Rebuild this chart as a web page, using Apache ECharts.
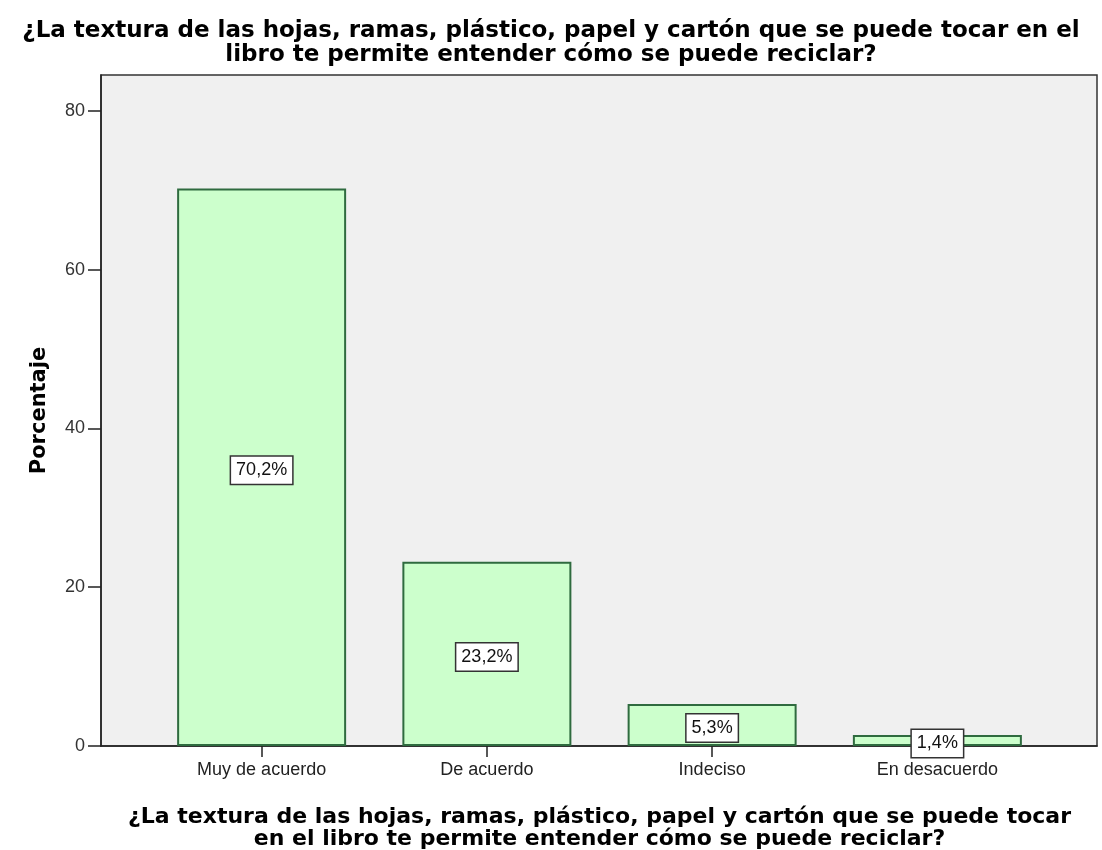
<!DOCTYPE html>
<html>
<head>
<meta charset="utf-8">
<title>Textura del libro</title>
<script src="https://cdn.jsdelivr.net/npm/echarts@6/dist/echarts.min.js"></script>
<style>
	html, body { margin: 0; padding: 0; background: #fff; }
	#chart { width: 1102px; height: 850px; }
</style>
</head>
<body>
<div id="chart"></div>
<script>
var categories = ['Muy de acuerdo', 'De acuerdo', 'Indeciso', 'En desacuerdo'];
var porcentajes = [70.2, 23.2, 5.3, 1.4];
var etiquetas = ['70,2%', '23,2%', '5,3%', '1,4%'];
var yTicks = [0, 20, 40, 60, 80];

var titulo = '¿La textura de las hojas, ramas, plástico, papel y cartón que se puede tocar en el\nlibro te permite entender cómo se puede reciclar?';
var tituloX = '¿La textura de las hojas, ramas, plástico, papel y cartón que se puede tocar\nen el libro te permite entender cómo se puede reciclar?';

var myChart = echarts.init(document.getElementById('chart'));

var yMax = 84.5;
var fuenteBold = 'DejaVu Sans, sans-serif';
var fuente = 'Liberation Sans, Arial, sans-serif';

var option = {
	backgroundColor: '#ffffff',
	animation: false,
	title: {
		text: titulo,
		left: 'center',
		top: 14,
		textStyle: {
			fontFamily: fuenteBold,
			fontWeight: 'bold',
			fontSize: 23,
			lineHeight: 24,
			color: '#000'
		}
	},
	grid: [{
		// caja de fondo
		left: 101, right: 5, top: 75, bottom: 104,
		outerBoundsMode: 'none',
		containLabel: false,
		show: true,
		backgroundColor: '#f0f0f0',
		borderColor: '#333',
		borderWidth: 1.5
	}, {
		// rejilla de las barras
		left: 149, right: 52, top: 75, bottom: 104,
		outerBoundsMode: 'none',
		containLabel: false
	}],
	xAxis: [{
		gridIndex: 0,
		type: 'category',
		data: [''],
		axisLine: { show: true, lineStyle: { color: '#222', width: 1.5 } },
		axisTick: { show: false },
		axisLabel: { show: false }
	}, {
		gridIndex: 1,
		type: 'category',
		data: categories,
		axisLine: { show: false },
		axisTick: { show: true, alignWithLabel: true, length: 11, lineStyle: { color: '#222', width: 1.5 } },
		axisLabel: {
			margin: 15,
			fontFamily: fuente,
			fontSize: 18,
			color: '#222'
		},
		name: tituloX,
		nameLocation: 'middle',
		nameGap: 60,
		nameTextStyle: {
			fontFamily: fuenteBold,
			fontWeight: 'bold',
			fontSize: 22,
			lineHeight: 22,
			color: '#000'
		}
	}],
	yAxis: [{
		gridIndex: 0,
		type: 'value',
		min: 0,
		max: yMax,
		interval: 20,
		splitLine: { show: false },
		axisLine: { show: true, lineStyle: { color: '#222', width: 1.5 } },
		axisTick: { show: true, length: 13, lineStyle: { color: '#222', width: 1.5 } },
		axisLabel: {
			showMaxLabel: false,
			margin: 16,
			fontFamily: fuente,
			fontSize: 18,
			color: '#333',
			formatter: function(v) {
				return yTicks.indexOf(v) >= 0 ? String(v) : '';
			}
		},
		name: 'Porcentaje',
		nameLocation: 'middle',
		nameGap: 51,
		nameTextStyle: {
			fontFamily: fuenteBold,
			fontWeight: 'bold',
			fontSize: 21,
			color: '#000'
		}
	}, {
		gridIndex: 1,
		type: 'value',
		min: 0,
		max: yMax,
		show: false,
		splitLine: { show: false }
	}],
	series: [{
		type: 'bar',
		xAxisIndex: 1,
		yAxisIndex: 1,
		barWidth: 169,
		data: porcentajes,
		itemStyle: {
			color: '#ccffcc',
			borderColor: '#2f6b3f',
			borderWidth: 2
		},
		label: {
			show: true,
			position: 'inside',
			offset: [0, 3],
			formatter: function(p) {
				return etiquetas[p.dataIndex];
			},
			fontFamily: fuente,
			fontSize: 18,
			color: '#111',
			backgroundColor: '#ffffff',
			borderColor: '#333',
			borderWidth: 1.5,
			padding: [5, 5, 4, 5]
		}
	}]
};

myChart.setOption(option);
window.addEventListener('resize', function() {
	myChart.resize();
});
</script>
</body>
</html>
